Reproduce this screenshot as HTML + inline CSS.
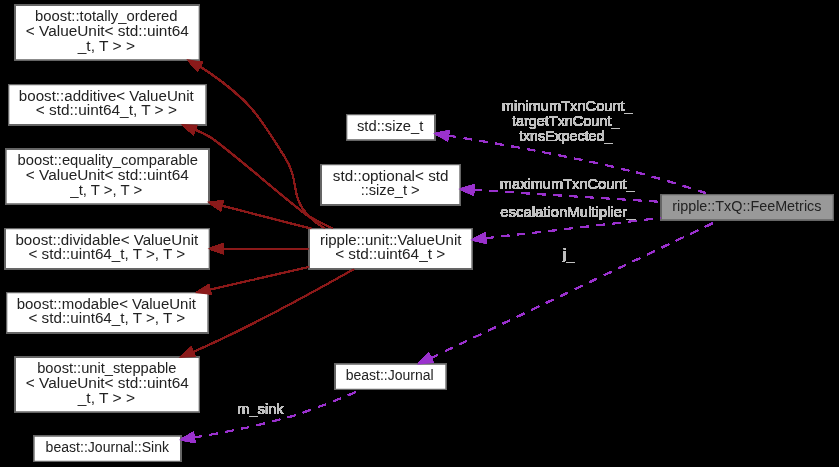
<!DOCTYPE html>
<html><head><meta charset="utf-8"><title>ripple::TxQ::FeeMetrics</title>
<style>
html,body{margin:0;padding:0;background:#000;width:839px;height:467px;overflow:hidden}
svg{display:block}
text{font-family:"Liberation Sans",sans-serif;text-anchor:middle}
</style></head><body>
<svg width="839" height="467" viewBox="0 0 629.25 350.25" preserveAspectRatio="none">
<defs><filter id="ad" x="0" y="0" width="100%" height="100%" filterUnits="userSpaceOnUse" color-interpolation-filters="sRGB"><feComponentTransfer><feFuncA type="linear" slope="30" intercept="0"/></feComponentTransfer></filter></defs>
<g filter="url(#ad)">
<g transform="translate(4 346)">
<polygon fill="#999999" stroke="#666666" stroke-width="1" points="621,-200 492,-200 492,-181 621,-181 621,-200"/>
<text x="556.12" y="-188.00" font-size="10.5" textLength="111.92" lengthAdjust="spacingAndGlyphs" fill="#222">ripple::TxQ::FeeMetrics</text>
<polygon fill="white" stroke="#666666" stroke-width="1" points="322,-260 256,-260 256,-241 322,-241 322,-260"/>
<text x="288.62" y="-248.00" font-size="10.5" textLength="49.76" lengthAdjust="spacingAndGlyphs" fill="#222">std::size_t</text>
<path fill="none" stroke="#9a32cd" stroke-width="1" stroke-dasharray="6,6" stroke-dashoffset="0" d="M332.24,-244.25C369.74,-238.33 425.9,-228.56 474,-216.5 492.44,-211.87 512.81,-205.37 528.58,-200.03"/>
<polygon fill="#9a32cd" stroke="#9a32cd" stroke-width="1" points="331.52,-240.82 322.17,-245.82 332.59,-247.74 331.52,-240.82"/>
<text x="421.46" y="-262.50" font-size="10.5" textLength="98.25" lengthAdjust="spacingAndGlyphs" fill="#c0c0c0" stroke="#c0c0c0" stroke-width="0">minimumTxnCount_</text>
<text x="420.25" y="-251.50" font-size="10.5" textLength="80.49" lengthAdjust="spacingAndGlyphs" fill="#c0c0c0" stroke="#c0c0c0" stroke-width="0">targetTxnCount_</text>
<text x="420.25" y="-240.50" font-size="10.5" textLength="70.06" lengthAdjust="spacingAndGlyphs" fill="#c0c0c0" stroke="#c0c0c0" stroke-width="0">txnsExpected_</text>
<polygon fill="white" stroke="#666666" stroke-width="1" points="341,-222.5 237,-222.5 237,-192.5 341,-192.5 341,-222.5"/>
<text x="289.00" y="-210.50" font-size="10.5" textLength="86.74" lengthAdjust="spacingAndGlyphs" fill="#222">std::optional&lt; std</text>
<text x="288.62" y="-199.50" font-size="10.5" textLength="44.28" lengthAdjust="spacingAndGlyphs" fill="#222">::size_t &gt;</text>
<path fill="none" stroke="#9a32cd" stroke-width="1" stroke-dasharray="6,6" stroke-dashoffset="0" d="M351.31,-203.57C393.42,-200.88 449.19,-197.31 491.8,-194.58"/>
<polygon fill="#9a32cd" stroke="#9a32cd" stroke-width="1" points="350.95,-200.09 341.19,-204.22 351.39,-207.08 350.95,-200.09"/>
<text x="421.46" y="-204.50" font-size="10.5" textLength="101.18" lengthAdjust="spacingAndGlyphs" fill="#c0c0c0" stroke="#c0c0c0" stroke-width="0">maximumTxnCount_</text>
<polygon fill="white" stroke="#666666" stroke-width="1" points="350,-174.5 228,-174.5 228,-144.5 350,-144.5 350,-174.5"/>
<text x="289.00" y="-162.50" font-size="10.5" textLength="106.15" lengthAdjust="spacingAndGlyphs" fill="#222">ripple::unit::ValueUnit</text>
<text x="288.62" y="-151.50" font-size="10.5" textLength="82.53" lengthAdjust="spacingAndGlyphs" fill="#222">&lt; std::uint64_t &gt;</text>
<path fill="none" stroke="#9a32cd" stroke-width="1" stroke-dasharray="6,6" stroke-dashoffset="0" d="M360.03,-167.35C394.38,-171.24 436.37,-176.04 474,-180.5 479.8,-181.19 485.84,-181.91 491.88,-182.64"/>
<polygon fill="#9a32cd" stroke="#9a32cd" stroke-width="1" points="360.42,-163.87 350.09,-166.23 359.64,-170.83 360.42,-163.87"/>
<text x="421.84" y="-183.50" font-size="10.5" textLength="101.16" lengthAdjust="spacingAndGlyphs" fill="#c0c0c0" stroke="#c0c0c0" stroke-width="0">escalationMultiplier_</text>
<polygon fill="white" stroke="#666666" stroke-width="1" points="145.5,-342 7.5,-342 7.5,-301 145.5,-301 145.5,-342"/>
<text x="75.75" y="-330.00" font-size="10.5" textLength="106.93" lengthAdjust="spacingAndGlyphs" fill="#222">boost::totally_ordered</text>
<text x="76.50" y="-319.00" font-size="10.5" textLength="122.21" lengthAdjust="spacingAndGlyphs" fill="#222">&lt; ValueUnit&lt; std::uint64</text>
<text x="75.75" y="-308.00" font-size="10.5" textLength="42.97" lengthAdjust="spacingAndGlyphs" fill="#222">_t, T &gt; &gt;</text>
<path fill="none" stroke="#8b1a1a" stroke-width="1" d="M146.24,-295.88C148.56,-294.48 150.83,-293.02 153,-291.5 184.21,-269.66 189.83,-259.81 210,-227.5 221.19,-209.58 213,-198.38 228,-183.5 231.42,-180.1 235.39,-177.17 239.62,-174.64"/>
<polygon fill="#8b1a1a" stroke="#8b1a1a" stroke-width="1" points="144.07,-293.08 137.01,-300.98 147.45,-299.21 144.07,-293.08"/>
<polygon fill="white" stroke="#666666" stroke-width="1" points="150.5,-282.5 2.5,-282.5 2.5,-252.5 150.5,-252.5 150.5,-282.5"/>
<text x="75.75" y="-270.50" font-size="10.5" textLength="131.18" lengthAdjust="spacingAndGlyphs" fill="#222">boost::additive&lt; ValueUnit</text>
<text x="75.75" y="-259.50" font-size="10.5" textLength="105.81" lengthAdjust="spacingAndGlyphs" fill="#222">&lt; std::uint64_t, T &gt; &gt;</text>
<path fill="none" stroke="#8b1a1a" stroke-width="1" d="M142.24,-248.7C145.94,-247.08 149.55,-245.35 153,-243.5 162.41,-238.47 218.78,-188.87 228,-183.5 233.53,-180.28 239.56,-177.3 245.62,-174.62"/>
<polygon fill="#8b1a1a" stroke="#8b1a1a" stroke-width="1" points="140.85,-245.48 132.91,-252.5 143.49,-251.97 140.85,-245.48"/>
<polygon fill="white" stroke="#666666" stroke-width="1" points="152.5,-234 0.5,-234 0.5,-193 152.5,-193 152.5,-234"/>
<text x="76.88" y="-222.00" font-size="10.5" textLength="135.38" lengthAdjust="spacingAndGlyphs" fill="#222">boost::equality_comparable</text>
<text x="76.50" y="-211.00" font-size="10.5" textLength="122.21" lengthAdjust="spacingAndGlyphs" fill="#222">&lt; ValueUnit&lt; std::uint64</text>
<text x="75.75" y="-200.00" font-size="10.5" textLength="53.94" lengthAdjust="spacingAndGlyphs" fill="#222">_t, T &gt;, T &gt;</text>
<path fill="none" stroke="#8b1a1a" stroke-width="1" d="M162.49,-191.7C184.97,-185.93 208.74,-179.83 229.47,-174.51"/>
<polygon fill="#8b1a1a" stroke="#8b1a1a" stroke-width="1" points="161.42,-188.36 152.6,-194.23 163.16,-195.14 161.42,-188.36"/>
<polygon fill="white" stroke="#666666" stroke-width="1" points="153,-174.5 0,-174.5 0,-144.5 153,-144.5 153,-174.5"/>
<text x="76.12" y="-162.50" font-size="10.5" textLength="137.13" lengthAdjust="spacingAndGlyphs" fill="#222">boost::dividable&lt; ValueUnit</text>
<text x="76.12" y="-151.50" font-size="10.5" textLength="117.57" lengthAdjust="spacingAndGlyphs" fill="#222">&lt; std::uint64_t, T &gt;, T &gt;</text>
<path fill="none" stroke="#8b1a1a" stroke-width="1" d="M163.37,-159.5C184.99,-159.5 207.74,-159.5 227.79,-159.5"/>
<polygon fill="#8b1a1a" stroke="#8b1a1a" stroke-width="1" points="163.2,-156 153.2,-159.5 163.2,-163 163.2,-156"/>
<polygon fill="white" stroke="#666666" stroke-width="1" points="152,-126.5 1,-126.5 1,-96.5 152,-96.5 152,-126.5"/>
<text x="75.75" y="-114.50" font-size="10.5" textLength="134.42" lengthAdjust="spacingAndGlyphs" fill="#222">boost::modable&lt; ValueUnit</text>
<text x="76.12" y="-103.50" font-size="10.5" textLength="117.57" lengthAdjust="spacingAndGlyphs" fill="#222">&lt; std::uint64_t, T &gt;, T &gt;</text>
<path fill="none" stroke="#8b1a1a" stroke-width="1" d="M153.5,-128.83C177.98,-134.41 204.76,-140.52 227.93,-145.8"/>
<polygon fill="#8b1a1a" stroke="#8b1a1a" stroke-width="1" points="154.05,-125.37 143.53,-126.56 152.5,-132.19 154.05,-125.37"/>
<polygon fill="white" stroke="#666666" stroke-width="1" points="145.5,-78 7.5,-78 7.5,-37 145.5,-37 145.5,-78"/>
<text x="76.12" y="-66.00" font-size="10.5" textLength="104.43" lengthAdjust="spacingAndGlyphs" fill="#222">boost::unit_steppable</text>
<text x="76.50" y="-55.00" font-size="10.5" textLength="122.21" lengthAdjust="spacingAndGlyphs" fill="#222">&lt; ValueUnit&lt; std::uint64</text>
<text x="75.75" y="-44.00" font-size="10.5" textLength="42.97" lengthAdjust="spacingAndGlyphs" fill="#222">_t, T &gt; &gt;</text>
<path fill="none" stroke="#8b1a1a" stroke-width="1" d="M140.67,-81.99C144.86,-83.8 149.01,-85.65 153,-87.5 191.56,-105.37 234.65,-129.03 261.55,-144.26"/>
<polygon fill="#8b1a1a" stroke="#8b1a1a" stroke-width="1" points="142.01,-78.75 131.43,-78.08 139.27,-85.2 142.01,-78.75"/>
<polygon fill="white" stroke="#666666" stroke-width="1" points="330.5,-73 247.5,-73 247.5,-54 330.5,-54 330.5,-73"/>
<text x="288.25" y="-61.00" font-size="10.5" textLength="66.05" lengthAdjust="spacingAndGlyphs" fill="#222">beast::Journal</text>
<path fill="none" stroke="#9a32cd" stroke-width="1" stroke-dasharray="6,6" stroke-dashoffset="0" d="M319.03,-77.39C373.26,-103.33 488.67,-158.53 535.31,-180.84"/>
<polygon fill="#9a32cd" stroke="#9a32cd" stroke-width="1" points="320.49,-74.2 309.96,-73.05 317.47,-80.52 320.49,-74.2"/>
<text x="422.41" y="-151.50" font-size="10.5" fill="#c0c0c0" stroke="#c0c0c0" stroke-width="0">j<tspan dx="0.15" dy="0.2">_</tspan></text>
<polygon fill="white" stroke="#666666" stroke-width="1" points="131.5,-19 21.5,-19 21.5,0 131.5,0 131.5,-19"/>
<text x="76.50" y="-7.00" font-size="10.5" textLength="92.56" lengthAdjust="spacingAndGlyphs" fill="#222">beast::Journal::Sink</text>
<path fill="none" stroke="#9a32cd" stroke-width="1" stroke-dasharray="6,6" stroke-dashoffset="0" d="M141.46,-17.87C163.41,-21.46 187.98,-26.29 210,-32.5 229.91,-38.12 251.73,-47.04 267.22,-53.88"/>
<polygon fill="#9a32cd" stroke="#9a32cd" stroke-width="1" points="142,-14.41 131.57,-16.3 140.9,-21.32 142,-14.41"/>
<text x="191.34" y="-35.50" font-size="10.5" textLength="34.86" lengthAdjust="spacingAndGlyphs" fill="#c0c0c0" stroke="#c0c0c0" stroke-width="0">m_sink</text>
</g>
</g>
</svg>
</body></html>
